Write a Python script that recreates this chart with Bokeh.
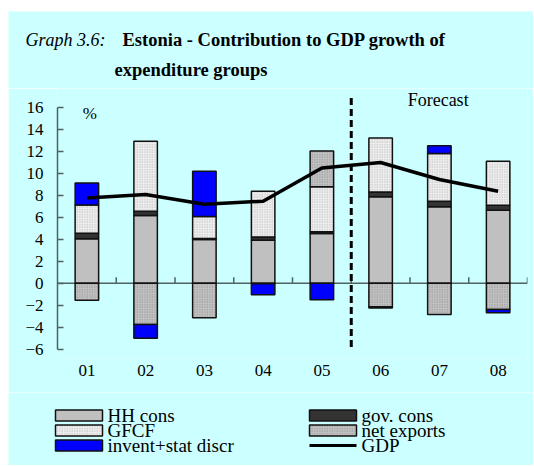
import numpy as np
from bokeh.plotting import figure
from bokeh.models import Range1d, FixedTicker, Span
from bokeh.layouts import column
from bokeh.embed import file_html
from bokeh.resources import INLINE
from bokeh.core.properties import value

# ---------------- data ----------------
years = ["01", "02", "03", "04", "05", "06", "07", "08"]
hh_cons = [4.05, 6.15, 3.97, 3.90, 4.52, 7.85, 6.94, 6.64]
gov_cons = [0.50, 0.40, 0.10, 0.30, 0.15, 0.45, 0.50, 0.45]
gfcf = [2.55, 6.35, 2.00, 4.15, 4.10, 4.90, 4.35, 4.00]
net_exports = [-1.55, -3.76, -3.15, -0.05, 3.25, -2.15, -2.85, -2.39]
invent = [2.00, -1.25, 4.10, -1.00, -1.50, -0.10, 0.70, -0.30]
gdp = [7.75, 8.07, 7.18, 7.45, 10.48, 10.97, 9.43, 8.36]
series_names = ["HH cons", "gov. cons", "GFCF", "net exports", "invent+stat discr", "GDP"]
y_ticks = [-6, -4, -2, 0, 2, 4, 6, 8, 10, 12, 14, 16]
forecast_start = 5  # forecast begins after the 5th category ("05")

title_italic = "Graph 3.6:"
title_bold_1 = "Estonia - Contribution to GDP growth of"
title_bold_2 = "expenditure groups"
unit_label = "%"
forecast_label = "Forecast"

# ---------------- style ----------------
BG = "#CCFFFF"
FONT = "Liberation Serif"
AXIS_COL = "#4f6262"
W = 525
EDGE = dict(line_color="#111111", line_width=1.5)
styles = [
    dict(fill_color="#C0C0C0"),
    dict(fill_color="#333333"),
    dict(fill_color="#EEEEEE", hatch_pattern="dot", hatch_color="#B4B4B4", hatch_scale=2.5, hatch_weight=1),
    dict(fill_color="#C2C2C2", hatch_pattern="dot", hatch_color="#8C8C8C", hatch_scale=2.5, hatch_weight=1),
    dict(fill_color="#0000FF"),
]


def blank_fig(height):
    f = figure(width=W, height=height, x_range=Range1d(0, W), y_range=Range1d(height, 0),
               x_axis_location=None, y_axis_location=None, min_border=0, frame_align=False,
               background_fill_color=BG, border_fill_color=BG, outline_line_color=None,
               output_backend="svg", toolbar_location=None)
    f.xgrid.visible = False
    f.ygrid.visible = False
    return f


# ---------------- title ----------------
t = blank_fig(77)
t.text(x=[17], y=[28], text=[title_italic], text_font=value(FONT), text_font_style="italic",
       text_font_size="18px", text_baseline="middle", text_color="black")
t.text(x=[114, 106], y=[28, 58], text=[title_bold_1, title_bold_2], text_font=value(FONT),
       text_font_style="bold", text_font_size="18.5px", text_baseline="middle", text_color="black")

# ---------------- main chart ----------------
n = len(years)
x = np.arange(n) + 0.5
p = figure(width=W, height=304, x_range=Range1d(0, n), y_range=Range1d(-6.845, 17.70),
           min_border_left=49, min_border_right=6, min_border_top=0, min_border_bottom=34,
           frame_align=False,
           background_fill_color=BG, border_fill_color=BG, outline_line_color=None,
           output_backend="svg", toolbar_location=None)
p.xgrid.visible = False
p.ygrid.visible = False

p.yaxis.ticker = FixedTicker(ticks=y_ticks)
p.yaxis.bounds = (min(y_ticks), max(y_ticks))
p.yaxis.major_tick_in = 6
p.yaxis.major_tick_out = 0
p.yaxis.minor_tick_line_color = None
p.yaxis.axis_line_color = AXIS_COL
p.yaxis.axis_line_width = 1.5
p.yaxis.major_tick_line_color = AXIS_COL
p.yaxis.major_tick_line_width = 1.5
p.yaxis.major_label_standoff = 14
p.yaxis.major_label_text_font = FONT
p.yaxis.major_label_text_font_size = "17px"
p.yaxis.major_label_text_color = "black"

p.xaxis.ticker = FixedTicker(ticks=list(x))
p.xaxis.major_label_overrides = {float(xi): yr for xi, yr in zip(x, years)}
p.xaxis.axis_line_color = None
p.xaxis.major_tick_line_color = None
p.xaxis.minor_tick_line_color = None
p.xaxis.major_tick_out = 0
p.xaxis.major_tick_in = 0
p.xaxis.major_label_standoff = 6
p.xaxis.major_label_text_font = FONT
p.xaxis.major_label_text_font_size = "17px"
p.xaxis.major_label_text_color = "black"

# zero line and category-boundary ticks
p.add_layout(Span(location=0, dimension="width", line_color=AXIS_COL, line_width=1.5, level="underlay"))
bounds_x = np.arange(1, n + 1)
p.segment(x0=bounds_x, y0=np.zeros(n), x1=bounds_x, y1=np.full(n, 0.55), line_color=AXIS_COL, line_width=1.5)

# stacked bars (positive parts stack upward, negative downward)
pos_base = np.zeros(n)
neg_base = np.zeros(n)
for vals, st in zip([hh_cons, gov_cons, gfcf, net_exports, invent], styles):
    v = np.array(vals, dtype=float)
    bottom = np.where(v >= 0, pos_base, neg_base + v)
    top = np.where(v >= 0, pos_base + v, neg_base)
    pos_base = pos_base + np.clip(v, 0, None)
    neg_base = neg_base + np.clip(v, None, 0)
    p.vbar(x=x, bottom=bottom, top=top, width=0.4, **st, **EDGE)

# forecast divider
p.segment(x0=[forecast_start], y0=[-5.8], x1=[forecast_start], y1=[17.0],
          line_color="black", line_width=3, line_dash="7 4")

# GDP line
p.line(x, gdp, line_color="black", line_width=3.5)

p.text(x=[forecast_start + 0.96], y=[16.7], text=[forecast_label], text_font=value(FONT),
       text_font_size="18px", text_baseline="middle", text_color="black")
p.text(x=[0.43], y=[15.4], text=[unit_label], text_font=value(FONT),
       text_font_size="17px", text_baseline="middle", text_color="black")

# ---------------- legend ----------------
lg = blank_fig(73)
rows_y = [23, 38, 53]
col_left = [47, 301]
sw_w = 47
sw_h = 11
txt_gap = 5
# order: column 1 -> HH cons, GFCF, invent ; column 2 -> gov. cons, net exports, GDP
layout_items = [(0, 0, 0), (1, 1, 0), (2, 0, 1), (3, 1, 1), (4, 0, 2)]
for si, col, row in layout_items:
    lx = col_left[col]
    cy = rows_y[row]
    lg.quad(left=[lx], right=[lx + sw_w], top=[cy - sw_h / 2], bottom=[cy + sw_h / 2], **styles[si], **EDGE)
    lg.text(x=[lx + sw_w + txt_gap], y=[cy], text=[series_names[si]], text_font=value(FONT),
            text_font_size="19px", text_baseline="middle", text_color="black")
# GDP line entry
lx = col_left[1]
cy = rows_y[2]
lg.segment(x0=[lx], y0=[cy], x1=[lx + sw_w], y1=[cy], line_color="black", line_width=3)
lg.text(x=[lx + sw_w + txt_gap], y=[cy], text=[series_names[5]], text_font=value(FONT),
        text_font_size="19px", text_baseline="middle", text_color="black")

layout = column(t, p, lg, spacing=0, margin=(11, 0, 0, 8))
open("out.html", "w").write(file_html(layout, INLINE))
